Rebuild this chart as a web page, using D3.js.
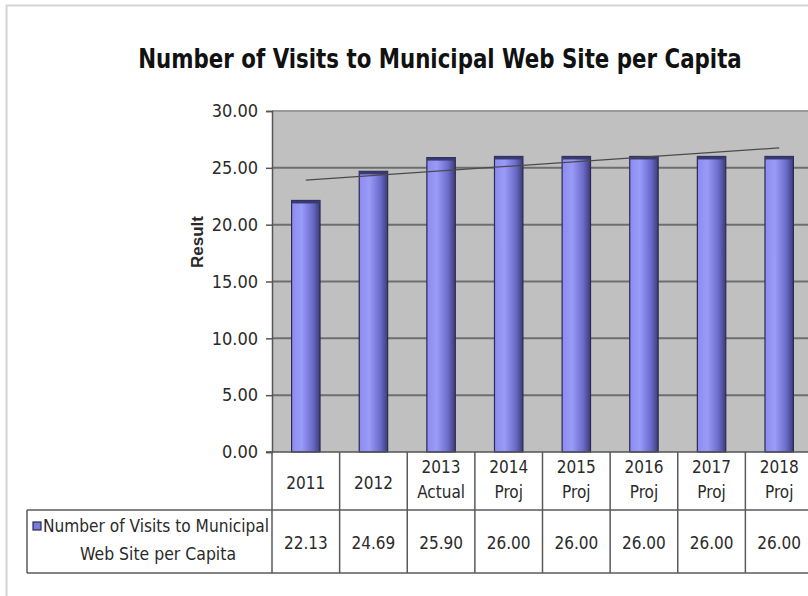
<!DOCTYPE html>
<html>
<head>
<meta charset="utf-8">
<script src="https://cdn.jsdelivr.net/npm/d3@7"></script>
<style>
  body { margin: 0; background: #fff; }
  svg { display: block; }
  text { font-family: "DejaVu Sans Condensed", "Liberation Sans", sans-serif; font-stretch: condensed; fill: #2a2a2a; }
</style>
</head>
<body>
<div id="chart"></div>
<script>
// data
var years = ["2011", "2012", "2013", "2014", "2015", "2016", "2017", "2018"];
var subLabels = ["", "", "Actual", "Proj", "Proj", "Proj", "Proj", "Proj"];
var visits = [22.13, 24.69, 25.90, 26.00, 26.00, 26.00, 26.00, 26.00];
var yTicks = [0, 5, 10, 15, 20, 25, 30];
var seriesName = ["Number of Visits to Municipal", "Web Site per Capita"];
var chartTitle = "Number of Visits to Municipal Web Site per Capita";

var W = 808, H = 596;
var plot = { left: 272, top: 111, right: 813, bottom: 452 };
var tableRow1 = 510, tableBottom = 573, tableLeft = 27;

var svg = d3.select("#chart").append("svg")
  .attr("width", W).attr("height", H);

// gradient for the bars
var defs = svg.append("defs");
var grad = defs.append("linearGradient").attr("id", "barGrad")
  .attr("x1", "0%").attr("x2", "100%").attr("y1", "0%").attr("y2", "0%");
grad.append("stop").attr("offset", "0%").attr("stop-color", "#8c8cf0");
grad.append("stop").attr("offset", "35%").attr("stop-color", "#9a9af8");
grad.append("stop").attr("offset", "75%").attr("stop-color", "#6a6ac8");
grad.append("stop").attr("offset", "100%").attr("stop-color", "#3c3c78");

// outer chart frame
svg.append("rect")
  .attr("x", 6.5).attr("y", 5.5).attr("width", W + 10).attr("height", H + 10)
  .attr("fill", "none").attr("stroke", "#d4d4d4").attr("stroke-width", 2);

// title, squeezed horizontally to the reference width
var title = svg.append("text")
  .attr("x", 0).attr("y", 0)
  .attr("text-anchor", "middle")
  .style("font-size", "27px").style("font-weight", "bold")
  .style("fill", "#111")
  .text(chartTitle);
var tLen = title.node().getComputedTextLength();
title.attr("transform", "translate(440,68) scale(" + Math.min(1, 604 / tLen) + ",1)");

// scales
var x = d3.scaleBand().domain(years).range([plot.left, plot.right]).padding(0);
var y = d3.scaleLinear().domain([0, 30]).range([plot.bottom, plot.top]);

// plot background
svg.append("rect")
  .attr("x", plot.left).attr("y", plot.top)
  .attr("width", plot.right - plot.left).attr("height", plot.bottom - plot.top)
  .attr("fill", "#c0c0c0");

// gridlines
svg.append("g").selectAll("line")
  .data(yTicks.filter(function(d) { return d > 0; }))
  .join("line")
  .attr("x1", plot.left).attr("x2", plot.right)
  .attr("y1", function(d) { return y(d); }).attr("y2", function(d) { return y(d); })
  .attr("stroke", function(d) { return d == 30 ? "#9a9a9a" : "#6e6e6e"; })
  .attr("stroke-width", 2);

// y axis
var yAxis = d3.axisLeft(y).tickValues(yTicks).tickFormat(d3.format(".2f")).tickSize(6).tickPadding(8);
var gy = svg.append("g")
  .attr("transform", "translate(" + plot.left + ",0)")
  .call(yAxis);
gy.select(".domain").attr("stroke", "#555").attr("stroke-width", 1.5);
gy.selectAll(".tick line").attr("stroke", "#555").attr("stroke-width", 1.5);
gy.selectAll(".tick text").style("font-size", "18px").attr("fill", "#333")
  .style("font-family", "'DejaVu Sans Condensed', 'Liberation Sans', sans-serif");

// y axis title
svg.append("text")
  .attr("transform", "translate(203,242) rotate(-90)")
  .attr("text-anchor", "middle")
  .style("font-size", "17px").style("font-weight", "bold")
  .style("font-family", "'Liberation Sans', Arial, sans-serif")
  .style("font-stretch", "normal")
  .text("Result");

// bars
var barW = x.bandwidth() * 0.42;
svg.append("g").selectAll("rect")
  .data(visits)
  .join("rect")
  .attr("x", function(d, i) { return x(years[i]) + x.bandwidth() / 2 - barW / 2; })
  .attr("y", function(d) { return y(d); })
  .attr("width", barW)
  .attr("height", function(d) { return y(0) - y(d); })
  .attr("fill", "url(#barGrad)")
  .attr("stroke", "#2a2a55").attr("stroke-width", 1.2);

// bar top caps
svg.append("g").selectAll("rect")
  .data(visits)
  .join("rect")
  .attr("x", function(d, i) { return x(years[i]) + x.bandwidth() / 2 - barW / 2; })
  .attr("y", function(d) { return y(d); })
  .attr("width", barW)
  .attr("height", 3)
  .attr("fill", "#3a3a70");

// linear trend line (least squares over the series)
var n = visits.length;
var mx = d3.mean(visits, function(d, i) { return i + 1; });
var my = d3.mean(visits);
var sxy = d3.sum(visits, function(d, i) { return (i + 1 - mx) * (d - my); });
var sxx = d3.sum(visits, function(d, i) { return (i + 1 - mx) * (i + 1 - mx); });
var slope = sxy / sxx, icpt = my - slope * mx;
var trend = [1, n].map(function(k) { return { cat: years[k - 1], v: icpt + slope * k }; });
svg.append("path")
  .datum(trend)
  .attr("fill", "none")
  .attr("stroke", "#4a4a4a")
  .attr("stroke-width", 1.3)
  .attr("d", d3.line()
    .x(function(d) { return x(d.cat) + x.bandwidth() / 2; })
    .y(function(d) { return y(d.v); }));

// bottom axis line
svg.append("line")
  .attr("x1", plot.left - 6).attr("x2", plot.right)
  .attr("y1", plot.bottom).attr("y2", plot.bottom)
  .attr("stroke", "#555").attr("stroke-width", 1.5);

// data table
var tbl = svg.append("g").attr("stroke", "#5a5a5a").attr("stroke-width", 1.5);
tbl.append("line").attr("x1", tableLeft).attr("x2", plot.right).attr("y1", tableRow1).attr("y2", tableRow1);
tbl.append("line").attr("x1", tableLeft).attr("x2", plot.right).attr("y1", tableBottom).attr("y2", tableBottom);
tbl.append("line").attr("x1", tableLeft).attr("x2", tableLeft).attr("y1", tableRow1).attr("y2", tableBottom);
tbl.selectAll(".sep")
  .data(years)
  .join("line")
  .attr("class", "sep")
  .attr("x1", function(d) { return x(d); }).attr("x2", function(d) { return x(d); })
  .attr("y1", plot.bottom).attr("y2", tableBottom);

// category labels
var cats = svg.append("g").selectAll("g")
  .data(years)
  .join("g")
  .attr("transform", function(d) { return "translate(" + (x(d) + x.bandwidth() / 2) + ",0)"; });
cats.append("text")
  .attr("text-anchor", "middle")
  .attr("y", function(d, i) { return subLabels[i] ? 473 : 489; })
  .style("font-size", "17px")
  .text(function(d) { return d; });
cats.append("text")
  .attr("text-anchor", "middle")
  .attr("y", 498)
  .style("font-size", "17px")
  .text(function(d, i) { return subLabels[i]; });

// values row
svg.append("g").selectAll("text")
  .data(visits)
  .join("text")
  .attr("x", function(d, i) { return x(years[i]) + x.bandwidth() / 2; })
  .attr("y", 549)
  .attr("text-anchor", "middle")
  .style("font-size", "17px")
  .text(function(d) { return d3.format(".2f")(d); });

// legend key and series name
svg.append("rect")
  .attr("x", 33).attr("y", 522).attr("width", 8).attr("height", 8)
  .attr("fill", "#7a7ad8").attr("stroke", "#2a2a55").attr("stroke-width", 1.2);
svg.append("text")
  .attr("x", 43).attr("y", 532)
  .attr("textLength", 226).attr("lengthAdjust", "spacingAndGlyphs")
  .style("font-size", "17px")
  .text(seriesName[0]);
svg.append("text")
  .attr("x", 158).attr("y", 560)
  .attr("text-anchor", "middle")
  .attr("textLength", 156).attr("lengthAdjust", "spacingAndGlyphs")
  .style("font-size", "17px")
  .text(seriesName[1]);
</script>
</body>
</html>
